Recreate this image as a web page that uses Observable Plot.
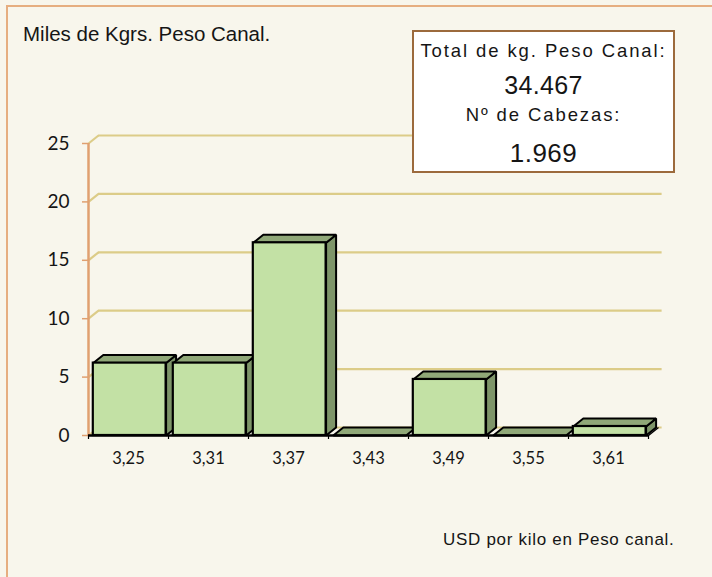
<!DOCTYPE html>
<html>
<head>
<meta charset="utf-8">
<script src="https://cdn.jsdelivr.net/npm/d3@7"></script>
<script src="https://cdn.jsdelivr.net/npm/@observablehq/plot@0.6"></script>
<style>
  html, body { margin: 0; padding: 0; background: #F8F6EC; }
  #wrap { position: relative; width: 712px; height: 577px; overflow: hidden; background: #F8F6EC; }
  #frame { position: absolute; left: 6px; top: 5px; width: 720px; height: 600px; border-left: 2px solid #E6AE80; border-top: 2px solid #E6AE80; box-sizing: border-box; }
  .t { position: absolute; font-family: "Liberation Sans", Arial, sans-serif; color: #151515; line-height: 1; white-space: nowrap; }
  #box { position: absolute; left: 412px; top: 30px; width: 263px; height: 143px; background: #fff; border: 2px solid #9C6A3C; box-sizing: border-box; }
  #box .t { left: 0; width: 100%; text-align: center; }
  #chart { position: absolute; left: 0; top: 0; }
</style>
</head>
<body>
<div id="wrap">
  <div id="frame"></div>
  <div id="chart"></div>
  <div class="t" id="title" style="left:23px; top:23.5px; font-size:20.5px; letter-spacing:0px;">Miles de Kgrs. Peso Canal.</div>
  <div id="box">
    <div class="t" style="top:9.5px; font-size:18.5px; letter-spacing:1.9px;">Total de kg. Peso Canal:</div>
    <div class="t" style="top:40.8px; font-size:25px; letter-spacing:0.3px;">34.467</div>
    <div class="t" style="top:74px; font-size:18.5px; letter-spacing:1.9px;">Nº de Cabezas:</div>
    <div class="t" style="top:107.7px; font-size:26px; letter-spacing:0.5px;">1.969</div>
  </div>
  <div class="t" id="footer" style="left:443px; top:531.3px; font-size:17px; letter-spacing:0.7px;">USD por kilo en Peso canal.</div>
</div>
<script>
// ---- data ----
const categories = ["3,25", "3,31", "3,37", "3,43", "3,49", "3,55", "3,61"];
const values = [6.2, 6.2, 16.5, 0, 4.8, 0, 0.77];
const yTicks = [0, 5, 10, 15, 20, 25];

// ---- 3D geometry helpers (in data units) ----
const DX = 0.125;   // depth offset along x (band units)
const DY = 0.685;   // depth offset along y (value units)
const L = 0.06, R = 0.97; // front face inside each band

const bars = values.map((v, i) => ({i, v, x1: i + L, x2: i + R}));
const tops = [], sides = [];
bars.forEach(b => {
  tops.push({z: b.i, x: b.x1, y: b.v}, {z: b.i, x: b.x2, y: b.v}, {z: b.i, x: b.x2 + DX, y: b.v + DY}, {z: b.i, x: b.x1 + DX, y: b.v + DY});
  if (b.v > 0) sides.push({z: b.i, x: b.x2, y: 0}, {z: b.i, x: b.x2, y: b.v}, {z: b.i, x: b.x2 + DX, y: b.v + DY}, {z: b.i, x: b.x2 + DX, y: DY});
});
const boundaries = d3.range(categories.length + 1);
const centers = categories.map((_, i) => i + 0.5);
const grid = "#DCCC88", axisOrange = "#E0A070";

const plot = Plot.plot({
  width: 712, height: 577,
  marginLeft: 88, marginRight: 64, marginTop: 143, marginBottom: 142,
  style: {background: "transparent", overflow: "visible", fontFamily: "Lato, sans-serif", color: "#151515"},
  x: {domain: [0, categories.length], axis: null},
  y: {domain: [0, 25], axis: null},
  marks: [
    Plot.ruleY(yTicks, {y: d => d + DY, x1: () => DX, x2: () => 7.17, stroke: grid, strokeWidth: 2.2}),
    Plot.link(yTicks, {x1: () => 0, y1: d => d, x2: () => DX, y2: d => d + DY, stroke: grid, strokeWidth: 2.2}),
    Plot.ruleX([0], {y1: () => 0, y2: () => 25, stroke: axisOrange, strokeWidth: 2.5}),
    Plot.axisY({ticks: yTicks, tickSize: 6, tickPadding: 13, stroke: axisOrange, strokeWidth: 1.5, fill: "#151515", fontSize: 19, tickFormat: d => String(d)}),
    Plot.line(sides, {x: "x", y: "y", z: "z", fill: "#7E9569", stroke: "#000", strokeWidth: 2, strokeLinejoin: "miter", curve: "linear-closed"}),
    Plot.line(tops, {x: "x", y: "y", z: "z", fill: "#90A878", stroke: "#000", strokeWidth: 2, strokeLinejoin: "miter", curve: "linear-closed"}),
    Plot.rect(bars.filter(b => b.v > 0), {x1: "x1", x2: "x2", y1: () => 0, y2: "v", fill: "#C3E1A5", stroke: "#000", strokeWidth: 2.2}),
    Plot.ruleY([0], {x1: () => 0, x2: () => categories.length, stroke: "#000", strokeWidth: 2.5}),
    Plot.link([0], {x1: () => categories.length, y1: () => 0, x2: () => categories.length + DX, y2: () => DY, stroke: "#000", strokeWidth: 1.5}),
    Plot.axisX({ticks: boundaries, tickSize: 4, tickFormat: () => "", stroke: "#000", strokeWidth: 1.2}),
    Plot.axisX({ticks: centers, tickSize: 0, tickPadding: 17, fontSize: 16.5, fill: "#151515", tickFormat: t => categories[Math.floor(t)]})
  ]
});
document.getElementById("chart").appendChild(plot);
</script>
</body>
</html>
